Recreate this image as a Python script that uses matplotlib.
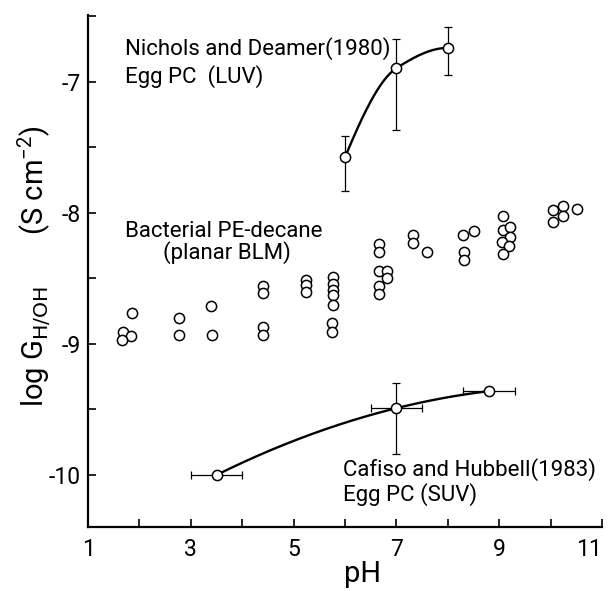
import numpy as np
import matplotlib
matplotlib.use("Agg")
import matplotlib.pyplot as plt

plt.rcParams['font.family'] = ['Roboto', 'DejaVu Sans']
plt.rcParams['mathtext.default'] = 'regular'
plt.rcParams['axes.unicode_minus'] = False

# Bacterial PE-decane (planar BLM)
bact_ph = [1.85, 1.69, 1.84, 1.67, 2.78, 2.78, 3.40, 3.41,
           4.40, 4.40, 4.40, 4.40, 5.25, 5.25, 5.25,
           5.77, 5.77, 5.77, 5.77, 5.77, 5.75, 5.75,
           6.66, 6.66, 6.66, 6.81, 6.81, 6.66, 6.66,
           7.33, 7.33, 7.59, 8.30, 8.50, 8.32, 8.32,
           9.07, 9.07, 9.21, 9.21, 9.05, 9.20, 9.07,
           10.04, 10.04, 10.25, 10.25, 10.51]
bact_logg = [-8.76, -8.91, -8.94, -8.97, -8.80, -8.93, -8.71, -8.93,
             -8.56, -8.61, -8.87, -8.93, -8.51, -8.55, -8.60,
             -8.49, -8.54, -8.59, -8.63, -8.70, -8.84, -8.91,
             -8.24, -8.30, -8.44, -8.44, -8.50, -8.56, -8.62,
             -8.17, -8.23, -8.30, -8.17, -8.14, -8.30, -8.36,
             -8.02, -8.13, -8.11, -8.18, -8.22, -8.25, -8.31,
             -7.98, -8.07, -7.95, -8.02, -7.97]

# Nichols and Deamer (1980), egg PC LUV
nich_ph = [6.0, 7.0, 8.0]
nich_logg = [-7.575, -6.895, -6.74]
nich_err_lo = [0.26, 0.475, 0.21]
nich_err_hi = [0.165, 0.225, 0.16]

# Cafiso and Hubbell (1983), egg PC SUV
caf_ph = [3.5, 7.0, 8.8]
caf_logg = [-10.0, -9.49, -9.36]
caf_xerr = [0.5, 0.5, 0.5]
caf_err_lo = [0.0, 0.35, 0.0]
caf_err_hi = [0.0, 0.195, 0.0]


def pchip(xs, ys, xx):
    # monotone cubic through the points, so the drawn curve does not overshoot
    x = np.asarray(xs, float)
    y = np.asarray(ys, float)
    h = np.diff(x)
    d = np.diff(y) / h
    m = np.zeros_like(x)
    for k in range(1, len(x) - 1):
        if d[k-1] * d[k] > 0:
            w1 = 2*h[k] + h[k-1]
            w2 = h[k] + 2*h[k-1]
            m[k] = (w1 + w2) / (w1/d[k-1] + w2/d[k])
    m0 = ((2*h[0] + h[1])*d[0] - h[0]*d[1]) / (h[0] + h[1])
    m[0] = m0 if m0 * d[0] > 0 else 0
    mn = ((2*h[-1] + h[-2])*d[-1] - h[-1]*d[-2]) / (h[-1] + h[-2])
    m[-1] = mn if mn * d[-1] > 0 else 0
    i = np.clip(np.searchsorted(x, xx) - 1, 0, len(x) - 2)
    t = (xx - x[i]) / h[i]
    h00 = 2*t**3 - 3*t**2 + 1
    h10 = t**3 - 2*t**2 + t
    h01 = -2*t**3 + 3*t**2
    h11 = t**3 - t**2
    return h00*y[i] + h10*h[i]*m[i] + h01*y[i+1] + h11*h[i]*m[i+1]


fig = plt.figure(figsize=(6.08, 5.91), dpi=100)
ax = fig.add_axes([88/608, 1-527/591, 514/608, 512/591])

xx = np.linspace(nich_ph[0], nich_ph[-1], 200)
ax.plot(xx, pchip(nich_ph, nich_logg, xx), color='black', lw=1.7, zorder=2)
coef = np.polyfit(caf_ph, caf_logg, 2)
xx = np.linspace(caf_ph[0], caf_ph[-1], 200)
ax.plot(xx, np.polyval(coef, xx), color='black', lw=1.7, zorder=2)

ax.errorbar(nich_ph, nich_logg, yerr=[nich_err_lo, nich_err_hi], fmt='none',
            ecolor='black', elinewidth=0.9, capsize=3, capthick=0.9, zorder=2)
ax.errorbar(caf_ph, caf_logg, xerr=caf_xerr, yerr=[caf_err_lo, caf_err_hi],
            fmt='none', ecolor='black', elinewidth=0.9, capsize=3, capthick=0.9, zorder=2)

mk = dict(marker='o', s=54, facecolors='white', edgecolors='black', linewidths=1.1, zorder=3)
ax.scatter(bact_ph, bact_logg, **mk)
ax.scatter(nich_ph, nich_logg, **mk)
ax.scatter(caf_ph, caf_logg, **mk)

fs = 16
tk = dict(fontsize=fs, ha='left', va='baseline', color='black')
ax.text(1.72, -6.79, "Nichols and Deamer(1980)", **tk)
ax.text(1.72, -7.01, "Egg PC  (LUV)", **tk)
ax.text(1.72, -8.18, "Bacterial PE-decane", **tk)
ax.text(2.46, -8.35, "(planar BLM)", **tk)
ax.text(5.96, -10.01, "Cafiso and Hubbell(1983)", **tk)
ax.text(5.96, -10.20, "Egg PC (SUV)", **tk)

ax.set_xlim(1, 11)
ax.set_ylim(-10.397, -6.489)
xt = list(range(1, 12))
ax.set_xticks(xt)
ax.set_xticklabels([str(v) if v % 2 else '' for v in xt])
ax.get_xticklabels()[-1].set_horizontalalignment('right')
ax.set_yticks([-10.0, -9.5, -9.0, -8.5, -8.0, -7.5, -7.0, -6.5])
ax.set_yticklabels(['-10', '', '-9', '', '-8', '', '-7', ''])
ax.tick_params(direction='in', length=6, width=1.2, labelsize=16.5, colors='black')
ax.tick_params(axis='x', pad=8)
ax.tick_params(axis='y', pad=5)

for s in ['top', 'right']:
    ax.spines[s].set_visible(False)
for s in ['left', 'bottom']:
    ax.spines[s].set_linewidth(1.6)

ax.set_xlabel("pH", fontsize=21)
ax.xaxis.set_label_coords(0.535, -0.065)
ax.text(-0.105, 0.51, r"log G$_{\mathrm{H/OH}}$       (S cm$^{-2}$)", fontsize=21,
        rotation=90, ha='center', va='center', transform=ax.transAxes)

fig.savefig("out.png", dpi=100)
